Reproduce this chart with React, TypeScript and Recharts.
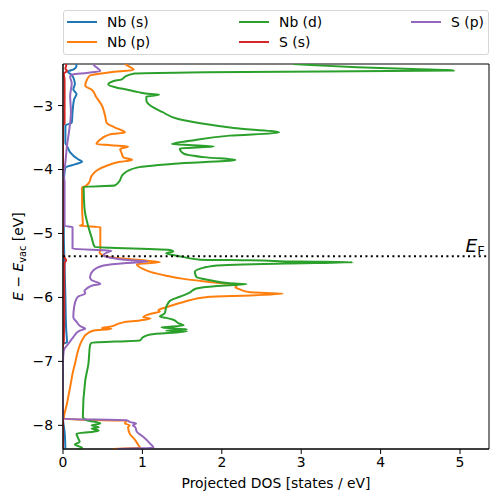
import { Label, Line, LineChart, ReferenceArea, ReferenceLine, XAxis, YAxis } from "recharts";

// projected DOS per orbital, [E - E_vac (eV), DOS (states/eV)]
const NB_S: [number, number][] = [
  [-2.35, 0.16], [-2.38, 0.17], [-2.43, 0.14], [-2.47, 0.06], [-2.52, 0.11], [-2.6, 0.14], [-2.66, 0.15],
  [-2.75, 0.13], [-2.82, 0.17], [-2.9, 0.14], [-3.1, 0.12], [-3.27, 0.11], [-3.31, 0.03], [-3.58, 0.03],
  [-3.63, 0.05], [-3.73, 0.09], [-3.84, 0.19], [-3.88, 0.24], [-3.92, 0.15], [-3.97, 0.03], [-4.1, 0.015],
  [-4.3, 0.01], [-5.0, 0.01], [-5.5, 0.02], [-6.0, 0.03], [-6.5, 0.04], [-6.7, 0.05], [-6.73, 0.0],
  [-7.9, 0.0], [-8.1, 0.02], [-8.37, 0.03],
];

const NB_P: [number, number][] = [
  [-2.35, 0.78], [-2.38, 0.82], [-2.44, 0.89], [-2.48, 0.6], [-2.53, 0.34], [-2.6, 0.3], [-2.69, 0.28],
  [-2.75, 0.36], [-2.87, 0.42], [-3.0, 0.49], [-3.16, 0.53], [-3.27, 0.55], [-3.34, 0.65], [-3.4, 0.76],
  [-3.42, 0.78], [-3.45, 0.59], [-3.55, 0.45], [-3.6, 0.42], [-3.62, 0.6], [-3.64, 0.82], [-3.68, 0.72],
  [-3.75, 0.74], [-3.81, 0.76], [-3.85, 0.87], [-3.88, 0.72], [-3.94, 0.55], [-4.1, 0.36], [-4.2, 0.33],
  [-4.26, 0.28], [-4.28, 0.24], [-4.6, 0.24], [-4.86, 0.25], [-4.88, 0.21], [-4.9, 0.47], [-5.27, 0.47],
  [-5.3, 0.46], [-5.34, 0.51], [-5.37, 0.59], [-5.42, 1.01], [-5.45, 1.22], [-5.48, 0.93], [-5.55, 1.0],
  [-5.6, 1.1], [-5.66, 1.3], [-5.71, 1.52], [-5.77, 1.94], [-5.81, 2.19], [-5.84, 2.17], [-5.87, 2.22],
  [-5.92, 2.36], [-5.94, 2.77], [-5.97, 2.36], [-5.99, 1.85], [-6.07, 1.52], [-6.15, 1.31], [-6.2, 1.2],
  [-6.22, 1.22], [-6.25, 1.12], [-6.31, 1.01], [-6.33, 1.1], [-6.36, 0.97], [-6.39, 0.76], [-6.46, 0.59],
  [-6.48, 0.49], [-6.49, 0.61], [-6.52, 0.38], [-6.57, 0.3], [-6.67, 0.24], [-6.83, 0.19], [-7.04, 0.15],
  [-7.14, 0.13], [-7.4, 0.09], [-7.66, 0.05], [-7.9, 0.01], [-7.93, 0.8], [-7.97, 0.78], [-8.0, 0.84],
  [-8.03, 0.82], [-8.13, 0.84], [-8.23, 0.91], [-8.31, 0.95], [-8.35, 0.97], [-8.37, 0.63],
];

const NB_D: [number, number][] = [
  [-2.35, 2.9], [-2.4, 3.7], [-2.43, 4.4], [-2.45, 4.92], [-2.48, 1.8], [-2.5, 0.9], [-2.55, 0.78],
  [-2.59, 0.74], [-2.62, 0.63], [-2.67, 0.57], [-2.72, 0.68], [-2.75, 0.8], [-2.79, 0.95], [-2.82, 1.1],
  [-2.83, 1.21], [-2.86, 1.05], [-2.92, 1.05], [-3.0, 1.1], [-3.1, 1.25], [-3.21, 1.45], [-3.28, 1.75],
  [-3.35, 2.15], [-3.42, 2.72], [-3.47, 2.1], [-3.55, 1.6], [-3.6, 1.37], [-3.64, 1.9], [-3.67, 1.47],
  [-3.75, 1.52], [-3.81, 1.81], [-3.85, 2.17], [-3.91, 1.4], [-3.95, 1.05], [-3.97, 0.93], [-4.07, 0.76],
  [-4.2, 0.7], [-4.25, 0.65], [-4.27, 0.26], [-4.6, 0.27], [-4.9, 0.32], [-5.06, 0.36], [-5.21, 0.4],
  [-5.26, 1.36], [-5.28, 1.39], [-5.31, 1.3], [-5.34, 1.4], [-5.37, 1.52], [-5.41, 1.73], [-5.42, 2.36],
  [-5.44, 2.98], [-5.45, 3.65], [-5.47, 2.8], [-5.5, 1.94], [-5.55, 1.73], [-5.6, 1.66], [-5.68, 1.68],
  [-5.73, 1.85], [-5.78, 2.1], [-5.79, 2.31], [-5.82, 1.94], [-5.86, 1.68], [-5.92, 1.6], [-5.99, 1.47],
  [-6.05, 1.35], [-6.15, 1.3], [-6.25, 1.28], [-6.3, 1.22], [-6.32, 1.3], [-6.35, 1.39], [-6.4, 1.45],
  [-6.44, 1.52], [-6.47, 1.24], [-6.5, 1.56], [-6.52, 1.3], [-6.53, 1.56], [-6.58, 1.1], [-6.62, 1.01],
  [-6.67, 0.97], [-6.71, 0.36], [-6.75, 0.34], [-7.04, 0.32], [-7.3, 0.28], [-7.87, 0.25], [-7.92, 0.3],
  [-7.97, 0.47], [-8.0, 0.36], [-8.03, 0.45], [-8.05, 0.36], [-8.08, 0.45], [-8.1, 0.38], [-8.13, 0.17],
  [-8.2, 0.19], [-8.26, 0.21], [-8.3, 0.15], [-8.35, 0.24], [-8.37, 0.19],
];

const S_S: [number, number][] = [
  [-2.35, 0.04], [-2.38, 0.04], [-2.42, 0.03], [-2.46, 0.05], [-2.5, 0.01], [-2.6, 0.02], [-2.8, 0.02],
  [-3.0, 0.02], [-3.28, 0.02], [-3.31, 0.0], [-4.5, 0.0], [-5.3, 0.0], [-5.38, 0.02], [-5.42, 0.04],
  [-5.46, 0.02], [-5.6, 0.015], [-6.2, 0.015], [-6.7, 0.01], [-6.75, 0.0], [-8.37, 0.0],
];

const S_P: [number, number][] = [
  [-2.35, 0.38], [-2.38, 0.4], [-2.41, 0.43], [-2.46, 0.47], [-2.49, 0.3], [-2.51, 0.13], [-2.55, 0.09],
  [-2.65, 0.11], [-2.85, 0.09], [-3.1, 0.1], [-3.37, 0.08], [-3.63, 0.05], [-3.89, 0.03], [-4.09, 0.01],
  [-4.2, 0.02], [-4.88, 0.02], [-4.9, 0.12], [-5.24, 0.12], [-5.27, 0.61], [-5.3, 0.55], [-5.34, 0.51],
  [-5.38, 0.6], [-5.42, 0.85], [-5.44, 1.07], [-5.46, 0.8], [-5.5, 0.51], [-5.58, 0.38], [-5.68, 0.34],
  [-5.73, 0.36], [-5.79, 0.47], [-5.81, 0.38], [-5.86, 0.3], [-5.9, 0.27], [-5.94, 0.28], [-5.98, 0.2],
  [-6.02, 0.17], [-6.15, 0.14], [-6.31, 0.13], [-6.38, 0.17], [-6.45, 0.22], [-6.49, 0.28], [-6.52, 0.21],
  [-6.62, 0.13], [-6.72, 0.07], [-6.83, 0.01], [-7.0, 0.0], [-7.9, 0.0], [-7.92, 0.8], [-7.95, 0.85],
  [-7.97, 0.92], [-8.0, 0.88], [-8.03, 0.91], [-8.1, 0.93], [-8.18, 1.01], [-8.29, 1.1], [-8.35, 1.14],
  [-8.37, 0.68],
];

const SERIES_NAMES = ["Nb (s)", "Nb (p)", "Nb (d)", "S (s)", "S (p)"];
const SERIES_DATA = [NB_S, NB_P, NB_D, S_S, S_P];
const COLORS = ["#1f77b4", "#ff7f0e", "#2ca02c", "#d62728", "#9467bd"];

const X_TICKS = [0, 1, 2, 3, 4, 5];
const Y_TICKS = [-8, -7, -6, -5, -4, -3];
const X_DOMAIN = [0, 5.365];
const Y_DOMAIN = [-8.37, -2.35];
const E_FERMI = -5.355;

const FONT = "DejaVu Sans";
const FS = 13.9;

const fmt = (v: number) => (v < 0 ? `\u2212${Math.abs(v)}` : `${v}`);

// legend laid out like matplotlib ncol=3 (column-major)
function PdosLegend() {
  const cols = [67, 239, 411];
  const rows = [22, 42];
  return (
    <div
      style={{
        position: "absolute",
        left: 63,
        top: 10,
        width: 424,
        height: 43,
        border: "1px solid #d6d6d6",
        borderRadius: 3,
        background: "#fff",
      }}
    >
      {SERIES_NAMES.map((name, i) => {
        const col = Math.floor(i / 2);
        const row = i % 2;
        return (
          <div key={name}>
            <div
              style={{
                position: "absolute",
                left: cols[col] - 64,
                top: rows[row] - 11 - 1,
                width: 30,
                height: 2,
                background: COLORS[i],
              }}
            />
            <div
              style={{
                position: "absolute",
                left: cols[col] - 64 + 40,
                top: rows[row] - 11 - 9,
                fontFamily: FONT,
                fontSize: FS,
                lineHeight: "18px",
                color: "#000",
                whiteSpace: "nowrap",
              }}
            >
              {name}
            </div>
          </div>
        );
      })}
    </div>
  );
}

const renderYLabel = () => (
  <text
    x={23}
    y={256.5}
    transform="rotate(-90 23 256.5)"
    textAnchor="middle"
    fontFamily={FONT}
    fontSize={FS}
    fill="#000"
  >
    <tspan fontStyle="italic">E</tspan>
    <tspan> {"\u2212"} </tspan>
    <tspan fontStyle="italic">E</tspan>
    <tspan fontSize={9.7} dy={3}>vac</tspan>
    <tspan dy={-3}> [eV]</tspan>
  </text>
);

const renderEF = (props: any) => {
  const vb = props.viewBox || {};
  const x = (vb.x ?? 63) + (vb.width ?? 426) - 23.5;
  const y = (vb.y ?? 256) - 4;
  return (
    <text x={x} y={y} fontFamily={FONT} fontSize={18.5} fill="#000">
      <tspan fontStyle="italic">E</tspan>
      <tspan fontSize={13} dy={2.5}>F</tspan>
    </text>
  );
};

export default function App() {
  return (
    <div style={{ position: "absolute", left: 0, top: 0, width: 498, height: 502, background: "#fff" }}>
      <LineChart
        width={498}
        height={502}
        layout="vertical"
        margin={{ top: 64, right: 9, bottom: 23, left: 23 }}
      >
        <XAxis
          type="number"
          dataKey="dos"
          domain={X_DOMAIN}
          ticks={X_TICKS}
          allowDataOverflow
          height={30}
          tickSize={5}
          tickMargin={3}
          tickFormatter={fmt}
          stroke="#000"
          tick={{ fill: "#000", fontSize: FS, fontFamily: FONT }}
          label={{
            value: "Projected DOS [states / eV]",
            position: "bottom",
            offset: -1,
            fill: "#000",
            fontSize: FS,
            fontFamily: FONT,
          }}
        />
        <YAxis
          type="number"
          dataKey="e"
          domain={Y_DOMAIN}
          ticks={Y_TICKS}
          reversed
          allowDataOverflow
          width={40}
          tickSize={5}
          tickMargin={5}
          tickFormatter={fmt}
          stroke="#000"
          tick={{ fill: "#000", fontSize: FS, fontFamily: FONT }}
          label={{ content: renderYLabel }}
        />
        {/* axes frame on all four sides */}
        <ReferenceArea
          x1={X_DOMAIN[0]}
          x2={X_DOMAIN[1]}
          y1={Y_DOMAIN[0]}
          y2={Y_DOMAIN[1]}
          fill="none"
          fillOpacity={0}
          stroke="#000"
          strokeWidth={1}
          ifOverflow="visible"
        />
        {SERIES_DATA.map((rows, i) => (
          <Line
            key={SERIES_NAMES[i]}
            name={SERIES_NAMES[i]}
            data={rows.map(([e, dos]) => ({ e, dos }))}
            dataKey="dos"
            type="monotone"
            stroke={COLORS[i]}
            strokeWidth={2}
            dot={false}
            activeDot={false}
            isAnimationActive={false}
          />
        ))}
        <ReferenceLine y={E_FERMI} stroke="#000" strokeWidth={2} strokeDasharray="2 3.4">
          <Label content={renderEF} />
        </ReferenceLine>
      </LineChart>
      <PdosLegend />
    </div>
  );
}
